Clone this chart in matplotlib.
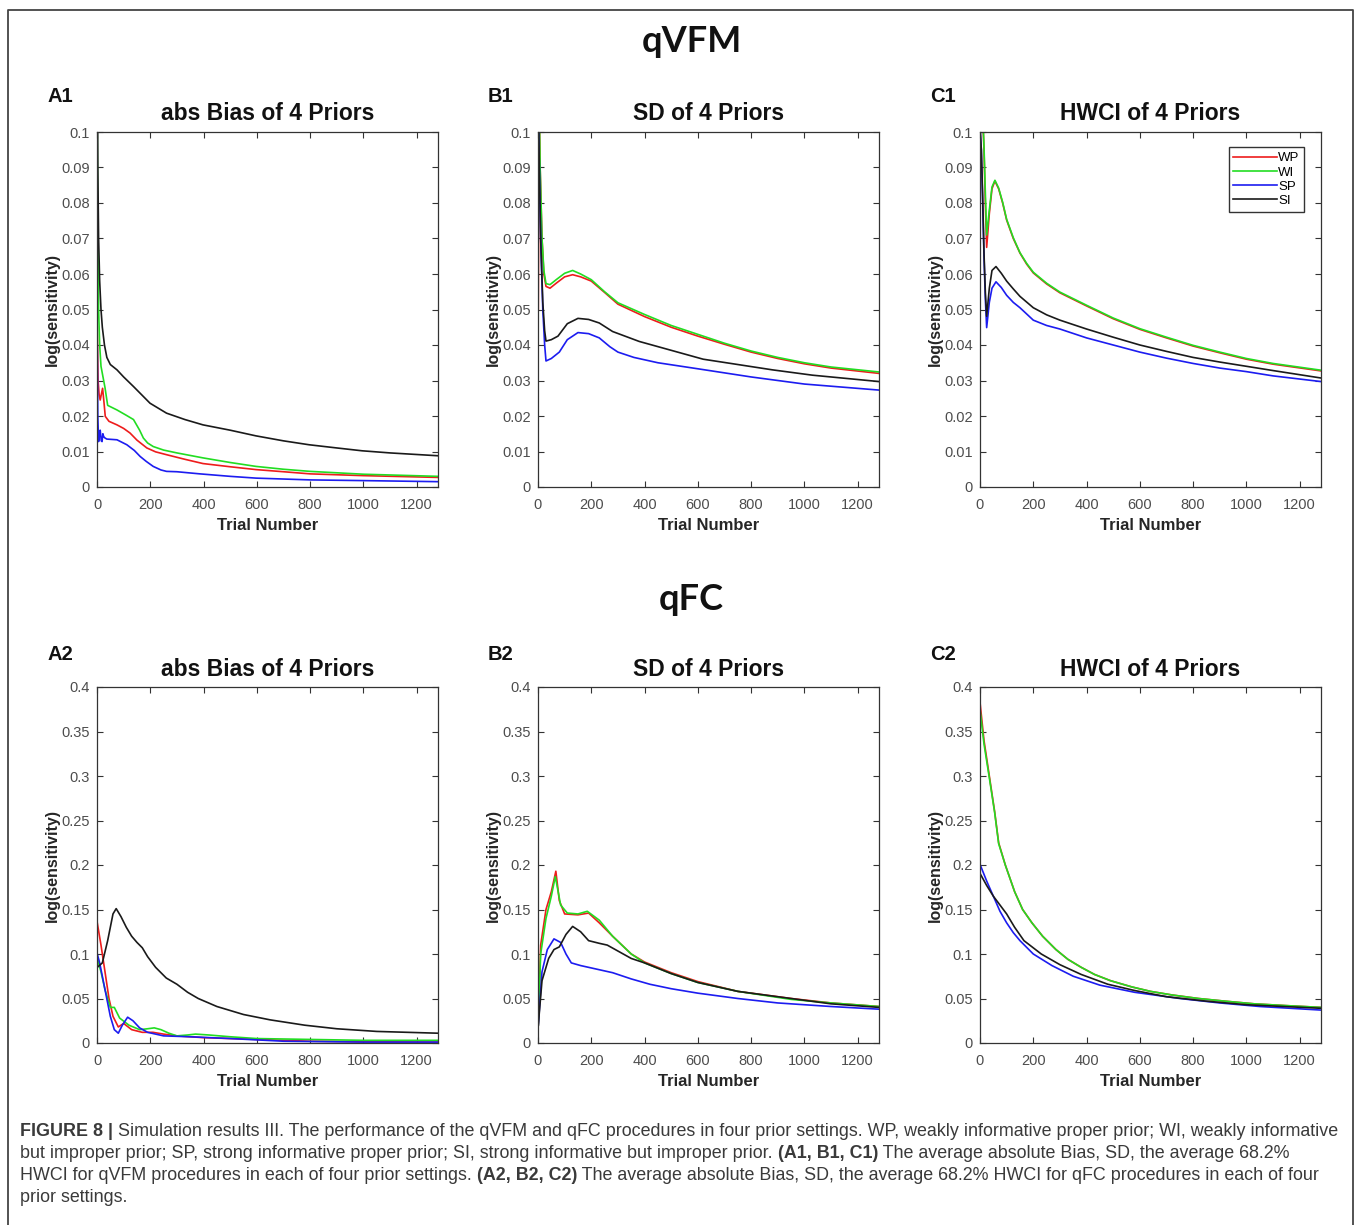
import matplotlib
matplotlib.use('Agg')
import matplotlib.pyplot as plt
from matplotlib.ticker import FormatStrFormatter, MultipleLocator
from matplotlib.offsetbox import TextArea, HPacker, AnnotationBbox
from matplotlib.lines import Line2D

plt.rcParams['font.family'] = ['Liberation Sans', 'DejaVu Sans']

# ---- data (trial number, log(sensitivity)) ----
labels = ['WP', 'WI', 'SP', 'SI']
colors = ['#ee1c1c', '#22dd22', '#1c1cf0', '#1a1a1a']

# A1: abs bias, qVFM
a1_wp_x = [1, 4, 8, 12, 16, 21, 26, 31, 45, 75, 100, 124, 150, 187, 220, 261, 330, 398, 500, 597, 700, 800, 1000, 1280]
a1_wp_y = [0.045, 0.03, 0.026, 0.0245, 0.026, 0.0278, 0.024, 0.0199, 0.0185, 0.0175, 0.0165, 0.0152, 0.0132, 0.011,
           0.0099, 0.0091, 0.0078, 0.0066, 0.0057, 0.0049, 0.0043, 0.0037, 0.0032, 0.0027]
a1_wi_x = [1, 3, 6, 10, 15, 20, 30, 40, 75, 110, 137, 160, 174, 190, 211, 250, 300, 398, 500, 597, 700, 800, 1000, 1280]
a1_wi_y = [0.1, 0.07, 0.05, 0.04, 0.034, 0.032, 0.028, 0.023, 0.0217, 0.0202, 0.019, 0.016, 0.0138, 0.0124, 0.0114,
           0.0104, 0.0096, 0.0082, 0.0069, 0.0058, 0.005, 0.0044, 0.0036, 0.003]
a1_sp_x = [1, 3, 6, 9, 12, 16, 19, 22, 25, 30, 37, 75, 112, 140, 162, 185, 211, 240, 261, 300, 386, 500, 597, 800, 1000, 1280]
a1_sp_y = [0.04, 0.02, 0.0128, 0.015, 0.016, 0.013, 0.0128, 0.015, 0.0142, 0.0138, 0.0135, 0.0133, 0.0119, 0.0103,
           0.0086, 0.0072, 0.0058, 0.0048, 0.0044, 0.0043, 0.0037, 0.003, 0.0025, 0.002, 0.0018, 0.0015]
a1_si_x = [1, 3, 6, 10, 15, 20, 28, 37, 50, 75, 100, 137, 170, 199, 261, 330, 398, 500, 597, 700, 796, 900, 995, 1100, 1280]
a1_si_y = [0.12, 0.09, 0.07, 0.058, 0.05, 0.045, 0.04, 0.0365, 0.0345, 0.033, 0.031, 0.0283, 0.0258, 0.0236, 0.0208,
           0.019, 0.0175, 0.016, 0.0144, 0.013, 0.0119, 0.011, 0.0102, 0.0096, 0.0088]

# B1: SD, qVFM
b1_wp_x = [1, 4, 8, 15, 22, 30, 45, 70, 100, 130, 160, 200, 250, 300, 400, 500, 600, 700, 800, 900, 1000, 1100, 1280]
b1_wp_y = [0.05, 0.11, 0.09, 0.07, 0.06, 0.0565, 0.056, 0.0575, 0.0592, 0.0598, 0.0592, 0.058, 0.0548, 0.0515, 0.048,
           0.045, 0.0425, 0.0402, 0.038, 0.0362, 0.0347, 0.0335, 0.032]
b1_wi_x = [1, 4, 8, 15, 22, 30, 45, 70, 100, 130, 160, 200, 250, 300, 400, 500, 600, 700, 800, 900, 1000, 1100, 1280]
b1_wi_y = [0.11, 0.11, 0.09, 0.07, 0.061, 0.0573, 0.057, 0.0585, 0.0602, 0.061, 0.06, 0.0584, 0.055, 0.0519, 0.0486,
           0.0455, 0.043, 0.0405, 0.0383, 0.0365, 0.035, 0.0338, 0.0324]
b1_sp_x = [1, 5, 10, 18, 25, 30, 50, 80, 110, 150, 190, 230, 270, 300, 360, 450, 600, 800, 1000, 1280]
b1_sp_y = [0.11, 0.09, 0.07, 0.05, 0.04, 0.0355, 0.0362, 0.038, 0.0415, 0.0435, 0.0432, 0.042, 0.0395, 0.038, 0.0365,
           0.035, 0.0333, 0.031, 0.029, 0.0273]
b1_si_x = [1, 5, 10, 18, 25, 30, 50, 75, 110, 150, 190, 230, 280, 380, 500, 620, 750, 880, 1030, 1280]
b1_si_y = [0.11, 0.09, 0.07, 0.052, 0.044, 0.0411, 0.0415, 0.0425, 0.046, 0.0475, 0.0472, 0.0462, 0.0438, 0.041,
           0.0385, 0.036, 0.0345, 0.033, 0.0315, 0.0297]

# C1: HWCI, qVFM
c1_wp_x = [1, 10, 15, 20, 25, 35, 45, 56, 70, 85, 100, 125, 150, 175, 200, 250, 300, 400, 500, 600, 700, 800, 900, 1000, 1100, 1280]
c1_wp_y = [0.11, 0.105, 0.095, 0.08, 0.0675, 0.077, 0.084, 0.0862, 0.084, 0.08, 0.0752, 0.07, 0.0659, 0.0628, 0.0603,
           0.0572, 0.0547, 0.051, 0.0474, 0.0444, 0.042, 0.0397, 0.0378, 0.036, 0.0346, 0.0327]
c1_wi_x = [1, 10, 15, 20, 25, 35, 45, 56, 70, 85, 100, 125, 150, 175, 200, 250, 300, 400, 500, 600, 700, 800, 900, 1000, 1100, 1280]
c1_wi_y = [0.11, 0.105, 0.096, 0.083, 0.071, 0.078, 0.0845, 0.0864, 0.0842, 0.0802, 0.0754, 0.0702, 0.066, 0.063,
           0.0605, 0.0574, 0.0549, 0.0512, 0.0476, 0.0446, 0.0422, 0.0399, 0.038, 0.0362, 0.0348, 0.0329]
c1_sp_x = [1, 5, 10, 15, 20, 25, 35, 45, 60, 80, 100, 125, 150, 200, 250, 300, 400, 500, 600, 700, 800, 900, 1000, 1100, 1280]
c1_sp_y = [0.1, 0.095, 0.08, 0.065, 0.053, 0.0449, 0.052, 0.056, 0.0578, 0.0562, 0.054, 0.052, 0.0505, 0.047, 0.0455,
           0.0445, 0.042, 0.04, 0.038, 0.0363, 0.0348, 0.0335, 0.0325, 0.0313, 0.0297]
c1_si_x = [1, 5, 10, 15, 20, 25, 35, 45, 60, 80, 100, 125, 150, 200, 250, 300, 400, 500, 600, 700, 800, 900, 1000, 1100, 1280]
c1_si_y = [0.1, 0.095, 0.082, 0.066, 0.055, 0.0481, 0.056, 0.061, 0.0621, 0.0602, 0.058, 0.0558, 0.0537, 0.0505, 0.0485,
           0.047, 0.0445, 0.0422, 0.04, 0.0382, 0.0365, 0.0352, 0.034, 0.0328, 0.0307]

# A2: abs bias, qFC
a2_wp_x = [1, 15, 30, 45, 60, 80, 100, 130, 170, 210, 250, 300, 400, 500, 600, 800, 1000, 1280]
a2_wp_y = [0.135, 0.11, 0.08, 0.05, 0.03, 0.018, 0.022, 0.015, 0.012, 0.012, 0.01, 0.008, 0.006, 0.005, 0.004, 0.002,
           0.0015, 0.001]
a2_wi_x = [1, 15, 30, 50, 65, 75, 85, 120, 160, 190, 215, 240, 270, 300, 340, 370, 420, 500, 600, 800, 1000, 1280]
a2_wi_y = [0.095, 0.08, 0.06, 0.04, 0.04, 0.034, 0.028, 0.02, 0.015, 0.016, 0.017, 0.015, 0.011, 0.008, 0.009, 0.01,
           0.009, 0.007, 0.005, 0.004, 0.003, 0.003]
a2_sp_x = [1, 10, 30, 50, 65, 80, 95, 115, 135, 160, 190, 250, 350, 500, 700, 1000, 1280]
a2_sp_y = [0.1, 0.09, 0.06, 0.03, 0.015, 0.011, 0.02, 0.029, 0.025, 0.017, 0.012, 0.008, 0.007, 0.005, 0.002, 0.001, 0.001]
a2_si_x = [1, 20, 40, 60, 72, 90, 110, 130, 150, 170, 190, 220, 260, 300, 340, 380, 450, 550, 650, 780, 900, 1050, 1280]
a2_si_y = [0.085, 0.09, 0.115, 0.145, 0.151, 0.142, 0.13, 0.12, 0.113, 0.107, 0.097, 0.085, 0.073, 0.066, 0.057, 0.05,
           0.041, 0.032, 0.026, 0.02, 0.016, 0.013, 0.011]

# B2: SD, qFC
b2_wp_x = [1, 10, 30, 50, 67, 80, 100, 150, 190, 230, 280, 350, 400, 500, 600, 750, 950, 1100, 1280]
b2_wp_y = [0.02, 0.11, 0.15, 0.17, 0.193, 0.16, 0.145, 0.144, 0.146, 0.135, 0.12, 0.1, 0.091, 0.079, 0.069, 0.058,
           0.05, 0.045, 0.041]
b2_wi_x = [1, 10, 30, 50, 65, 85, 110, 150, 185, 230, 280, 350, 400, 500, 600, 750, 950, 1100, 1280]
b2_wi_y = [0.02, 0.1, 0.14, 0.165, 0.187, 0.155, 0.146, 0.145, 0.148, 0.138, 0.12, 0.1, 0.09, 0.078, 0.068, 0.058,
           0.049, 0.045, 0.041]
b2_sp_x = [1, 15, 35, 60, 85, 105, 125, 160, 220, 280, 350, 420, 500, 600, 750, 900, 1100, 1280]
b2_sp_y = [0.02, 0.08, 0.105, 0.117, 0.113, 0.1, 0.09, 0.087, 0.083, 0.079, 0.072, 0.066, 0.061, 0.056, 0.05, 0.045,
           0.041, 0.038]
b2_si_x = [1, 15, 40, 60, 80, 105, 130, 160, 190, 230, 260, 290, 350, 400, 500, 600, 750, 950, 1100, 1280]
b2_si_y = [0.02, 0.07, 0.095, 0.105, 0.108, 0.122, 0.131, 0.125, 0.115, 0.112, 0.11, 0.105, 0.095, 0.09, 0.078, 0.068,
           0.058, 0.05, 0.044, 0.04]

# C2: HWCI, qFC
c2_wp_x = [1, 15, 35, 55, 70, 95, 130, 160, 195, 235, 285, 330, 380, 430, 490, 570, 640, 720, 820, 920, 1030, 1150, 1280]
c2_wp_y = [0.38, 0.34, 0.3, 0.26, 0.225, 0.2, 0.17, 0.15, 0.135, 0.12, 0.105, 0.094, 0.085, 0.077, 0.07, 0.063, 0.058,
           0.054, 0.05, 0.047, 0.044, 0.042, 0.04]
c2_wi_x = [1, 15, 35, 55, 70, 95, 130, 160, 195, 235, 285, 330, 380, 430, 490, 570, 640, 720, 820, 920, 1030, 1150, 1280]
c2_wi_y = [0.372, 0.336, 0.298, 0.259, 0.224, 0.2, 0.17, 0.15, 0.135, 0.12, 0.105, 0.094, 0.085, 0.077, 0.07, 0.063,
           0.058, 0.054, 0.05, 0.047, 0.044, 0.042, 0.04]
c2_sp_x = [1, 25, 50, 75, 100, 125, 150, 200, 270, 350, 450, 580, 750, 900, 1050, 1280]
c2_sp_y = [0.2, 0.182, 0.165, 0.148, 0.135, 0.124, 0.115, 0.1, 0.087, 0.075, 0.065, 0.057, 0.05, 0.045, 0.041, 0.037]
c2_si_x = [1, 25, 50, 75, 100, 130, 165, 230, 300, 380, 480, 580, 700, 850, 1000, 1280]
c2_si_y = [0.19, 0.177, 0.165, 0.155, 0.145, 0.13, 0.115, 0.1, 0.088, 0.077, 0.066, 0.059, 0.052, 0.047, 0.043, 0.039]

panel_tags = ['A1', 'B1', 'C1', 'A2', 'B2', 'C2']
panel_titles = ['abs Bias of 4 Priors', 'SD of 4 Priors', 'HWCI of 4 Priors'] * 2
panel_series = [
    [(a1_wp_x, a1_wp_y), (a1_wi_x, a1_wi_y), (a1_sp_x, a1_sp_y), (a1_si_x, a1_si_y)],
    [(b1_wp_x, b1_wp_y), (b1_wi_x, b1_wi_y), (b1_sp_x, b1_sp_y), (b1_si_x, b1_si_y)],
    [(c1_wp_x, c1_wp_y), (c1_wi_x, c1_wi_y), (c1_sp_x, c1_sp_y), (c1_si_x, c1_si_y)],
    [(a2_wp_x, a2_wp_y), (a2_wi_x, a2_wi_y), (a2_sp_x, a2_sp_y), (a2_si_x, a2_si_y)],
    [(b2_wp_x, b2_wp_y), (b2_wi_x, b2_wi_y), (b2_sp_x, b2_sp_y), (b2_si_x, b2_si_y)],
    [(c2_wp_x, c2_wp_y), (c2_wi_x, c2_wi_y), (c2_sp_x, c2_sp_y), (c2_si_x, c2_si_y)],
]

# ---- layout in pixels of the 1358x1225 picture ----
W, H = 1358, 1225
fig = plt.figure(figsize=(W / 100, H / 100), dpi=100)


def fx(x):
    return x / W


def fy(y):
    return 1 - y / H


col_left = [97, 538, 980]
row_top = [132, 687]
row_bot = [487, 1043]
ax_w = 341

for i in range(6):
    r, c = divmod(i, 3)
    left = col_left[c]
    ax = fig.add_axes([fx(left), fy(row_bot[r]), ax_w / W, (row_bot[r] - row_top[r]) / H])
    for (xs, ys), col, lab in zip(panel_series[i], colors, labels):
        ax.plot(xs, ys, color=col, lw=1.2, label=lab)
    ax.set_xlim(0, 1280)
    if r == 0:
        ax.set_ylim(0, 0.1)
        ax.yaxis.set_major_locator(MultipleLocator(0.01))
    else:
        ax.set_ylim(0, 0.4)
        ax.yaxis.set_major_locator(MultipleLocator(0.05))
    ax.xaxis.set_major_locator(MultipleLocator(200))
    ax.yaxis.set_major_formatter(FormatStrFormatter('%g'))
    ax.tick_params(direction='in', top=True, right=True, length=4, width=0.8,
                   labelsize=10.5, labelcolor='#4d4d4d', color='#333333')
    ax.tick_params(axis='x', pad=8)
    ax.tick_params(axis='y', pad=5)
    for s in ax.spines.values():
        s.set_color('#333333')
        s.set_linewidth(0.9)
    ax.set_xlabel('Trial Number', fontsize=12, fontweight='bold', color='#262626', labelpad=4)
    ax.set_ylabel('log(sensitivity)', fontsize=11.5, fontweight='bold', color='#262626', labelpad=1)
    # title and panel tag
    tag_y = 97 if r == 0 else 655
    title_y = 113 if r == 0 else 669
    fig.text(fx(left - 50), fy(tag_y), panel_tags[i], fontsize=14.5, fontweight='bold',
             ha='left', va='center', color='#111111')
    fig.text(fx(left + ax_w / 2), fy(title_y), panel_titles[i], fontsize=16.5, fontweight='bold',
             ha='center', va='center', color='#111111')
    if i == 2:
        ax.legend(loc='upper right', bbox_to_anchor=(0.97, 0.975), fontsize=9.5, handlelength=3.3,
                  handletextpad=0.1, labelspacing=0.15, borderpad=0.35, fancybox=False,
                  edgecolor='#333333', framealpha=1)

# section titles
fig.text(fx(692), fy(42), 'qVFM', fontsize=26, fontweight='bold', family=['Lato', 'DejaVu Sans'],
         ha='center', va='center', color='#111111')
fig.text(fx(691), fy(600), 'qFC', fontsize=26, fontweight='bold', family=['Lato', 'DejaVu Sans'],
         ha='center', va='center', color='#111111')

# outer frame (open at the bottom)
fig.add_artist(Line2D([fx(8), fx(8), fx(1353), fx(1353)], [0, fy(10), fy(10), 0],
                      transform=fig.transFigure, color='#444444', lw=1.3))

# caption
cap_lines = [
    [('FIGURE 8 |', 'bold'),
     (' Simulation results III. The performance of the qVFM and qFC procedures in four prior settings. WP, weakly informative proper prior; WI, weakly informative', 'normal')],
    [('but improper prior; SP, strong informative proper prior; SI, strong informative but improper prior. ', 'normal'),
     ('(A1, B1, C1)', 'bold'),
     (' The average absolute Bias, SD, the average 68.2%', 'normal')],
    [('HWCI for qVFM procedures in each of four prior settings. ', 'normal'),
     ('(A2, B2, C2)', 'bold'),
     (' The average absolute Bias, SD, the average 68.2% HWCI for qFC procedures in each of four', 'normal')],
    [('prior settings.', 'normal')],
]
cap_y = [1131, 1153, 1176, 1198]
for parts, yy in zip(cap_lines, cap_y):
    boxes = [TextArea(t, textprops=dict(fontsize=12.9, fontweight=w, color='#3a3a3a')) for t, w in parts]
    pack = HPacker(children=boxes, pad=0, sep=0, align='baseline')
    ab = AnnotationBbox(pack, (fx(20), fy(yy)), xycoords='figure fraction', box_alignment=(0, 0.5),
                        frameon=False, pad=0)
    fig.add_artist(ab)

fig.savefig('out.png', dpi=100)
